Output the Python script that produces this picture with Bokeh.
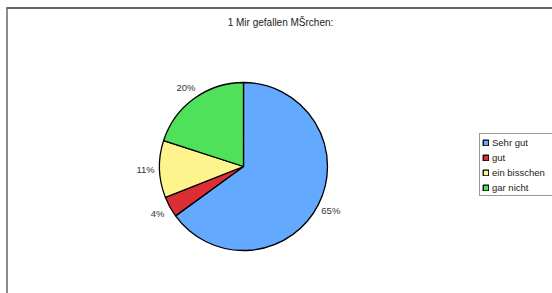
import math
from bokeh.plotting import figure
from bokeh.models import ColumnDataSource, Legend, LegendItem, Label
from bokeh.core.properties import value
from bokeh.embed import file_html
from bokeh.resources import INLINE

title_text = "1 Mir gefallen MŠrchen:"
categories = ["Sehr gut", "gut", "ein bisschen", "gar nicht"]
percents = [65, 4, 11, 20]
colors = ["#62a9ff", "#dc2f35", "#fff38d", "#4ee159"]

W, H = 552, 293
cx, cy, R = 243, 127, 84
label_r = 98

total = sum(percents)
starts, ends, lx, ly, labels = [], [], [], [], []
cum = 0.0
for v in percents:
    a_end = math.pi / 2 - 2 * math.pi * cum / total
    cum += v
    a_start = math.pi / 2 - 2 * math.pi * cum / total
    starts.append(a_start)
    ends.append(a_end)
    mid = (a_start + a_end) / 2
    lx.append(cx + label_r * math.cos(mid))
    ly.append(cy + label_r * math.sin(mid))
    labels.append(f"{v}%")

src = ColumnDataSource(dict(cat=categories, val=percents, color=colors,
                            start=starts, end=ends, lx=lx, ly=ly, lab=labels))

p = figure(width=W, height=H, x_range=(0, W), y_range=(0, H),
           output_backend="svg", toolbar_location=None,
           min_border=0, min_border_left=0, min_border_right=0,
           min_border_top=0, min_border_bottom=0)
p.axis.visible = False
p.grid.visible = False
p.outline_line_color = None
p.background_fill_color = "white"
p.border_fill_color = "white"

# chart-area frame (top and left edges visible in the window)
p.segment(x0=[6, 6.5], y0=[285.5, 286], x1=[W, 6.5], y1=[285.5, 0],
          line_color=["#333333", "#666666"], line_width=1.5)

w = p.wedge(x=cx, y=cy, radius=R, start_angle="start", end_angle="end",
            fill_color="color", line_color="black", line_width=1.3, source=src)

p.text(x="lx", y="ly", text="lab", source=src, text_align="center",
       text_baseline="middle", text_font=value("Liberation Sans"),
       text_font_size="9.5px", text_color="#333333")

p.add_layout(Label(x=280, y=271, text=title_text, text_align="center",
                   text_baseline="middle", text_font="Liberation Sans",
                   text_font_size="10px", text_color="#222222"))

items = [LegendItem(label=c, renderers=[w], index=i) for i, c in enumerate(categories)]
legend = Legend(items=items, location=(479, 97), orientation="vertical",
                label_text_font="Liberation Sans", label_text_font_size="9.5px",
                label_text_color="#222222", glyph_width=7, glyph_height=7,
                label_height=12, label_standoff=3, spacing=3, padding=2,
                margin=0, label_width=75,
                border_line_color="#333333", border_line_width=1,
                background_fill_color="white", background_fill_alpha=1)
p.add_layout(legend, "center")

open("out.html", "w").write(file_html(p, INLINE))
